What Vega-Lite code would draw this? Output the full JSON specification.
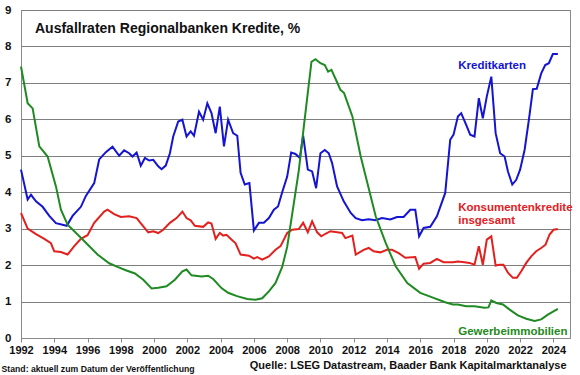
{
  "$schema": "https://vega.github.io/schema/vega-lite/v6.json",
  "width": 549,
  "height": 328,
  "autosize": {"type": "none"},
  "padding": {"left": 21, "top": 10, "right": 10, "bottom": 37},
  "background": "white",
  "config": {
    "font": "Liberation Sans",
    "view": {"stroke": "#8a8a8a", "strokeWidth": 1},
    "axis": {"labelFont": "Liberation Sans", "labelFontWeight": "bold", "labelColor": "#111", "titleFont": "Liberation Sans"}
  },
  "title": {
    "text": "Ausfallraten Regionalbanken Kredite, %",
    "anchor": "start",
    "frame": "group",
    "orient": "top",
    "font": "Liberation Sans",
    "fontSize": 14,
    "fontWeight": "bold",
    "color": "#111",
    "baseline": "alphabetic",
    "offset": 0,
    "dx": 14,
    "dy": 43
  },
  "datasets": {
    "series": [
      {"d":1992.0,"s":"Kreditkarten","v":4.62},{"d":1992.4,"s":"Kreditkarten","v":3.8},{"d":1992.6,"s":"Kreditkarten","v":3.93},{"d":1992.9,"s":"Kreditkarten","v":3.75},{"d":1993.3,"s":"Kreditkarten","v":3.6},{"d":1993.7,"s":"Kreditkarten","v":3.35},{"d":1994.1,"s":"Kreditkarten","v":3.15},{"d":1994.75,"s":"Kreditkarten","v":3.08},{"d":1995.1,"s":"Kreditkarten","v":3.35},{"d":1995.6,"s":"Kreditkarten","v":3.6},{"d":1995.9,"s":"Kreditkarten","v":3.9},{"d":1996.4,"s":"Kreditkarten","v":4.25},{"d":1996.7,"s":"Kreditkarten","v":4.9},{"d":1997.1,"s":"Kreditkarten","v":5.1},{"d":1997.5,"s":"Kreditkarten","v":5.25},{"d":1997.9,"s":"Kreditkarten","v":5.0},{"d":1998.2,"s":"Kreditkarten","v":5.15},{"d":1998.5,"s":"Kreditkarten","v":5.07},{"d":1998.7,"s":"Kreditkarten","v":4.98},{"d":1998.95,"s":"Kreditkarten","v":5.09},{"d":1999.2,"s":"Kreditkarten","v":4.73},{"d":1999.45,"s":"Kreditkarten","v":4.94},{"d":1999.7,"s":"Kreditkarten","v":4.87},{"d":1999.95,"s":"Kreditkarten","v":4.89},{"d":2000.25,"s":"Kreditkarten","v":4.71},{"d":2000.45,"s":"Kreditkarten","v":4.63},{"d":2000.7,"s":"Kreditkarten","v":4.73},{"d":2000.95,"s":"Kreditkarten","v":5.07},{"d":2001.15,"s":"Kreditkarten","v":5.53},{"d":2001.45,"s":"Kreditkarten","v":5.94},{"d":2001.7,"s":"Kreditkarten","v":5.99},{"d":2001.95,"s":"Kreditkarten","v":5.53},{"d":2002.2,"s":"Kreditkarten","v":5.67},{"d":2002.4,"s":"Kreditkarten","v":5.55},{"d":2002.7,"s":"Kreditkarten","v":6.21},{"d":2002.95,"s":"Kreditkarten","v":5.99},{"d":2003.2,"s":"Kreditkarten","v":6.44},{"d":2003.45,"s":"Kreditkarten","v":6.17},{"d":2003.7,"s":"Kreditkarten","v":5.62},{"d":2003.95,"s":"Kreditkarten","v":6.35},{"d":2004.2,"s":"Kreditkarten","v":5.26},{"d":2004.45,"s":"Kreditkarten","v":5.99},{"d":2004.75,"s":"Kreditkarten","v":5.62},{"d":2005.0,"s":"Kreditkarten","v":5.55},{"d":2005.2,"s":"Kreditkarten","v":4.53},{"d":2005.45,"s":"Kreditkarten","v":4.21},{"d":2005.73,"s":"Kreditkarten","v":4.25},{"d":2006.0,"s":"Kreditkarten","v":2.95},{"d":2006.3,"s":"Kreditkarten","v":3.16},{"d":2006.6,"s":"Kreditkarten","v":3.16},{"d":2006.9,"s":"Kreditkarten","v":3.29},{"d":2007.2,"s":"Kreditkarten","v":3.52},{"d":2007.45,"s":"Kreditkarten","v":3.61},{"d":2007.7,"s":"Kreditkarten","v":4.0},{"d":2008.0,"s":"Kreditkarten","v":4.43},{"d":2008.24,"s":"Kreditkarten","v":5.09},{"d":2008.5,"s":"Kreditkarten","v":5.05},{"d":2008.76,"s":"Kreditkarten","v":4.94},{"d":2008.96,"s":"Kreditkarten","v":5.55},{"d":2009.24,"s":"Kreditkarten","v":4.62},{"d":2009.5,"s":"Kreditkarten","v":4.57},{"d":2009.74,"s":"Kreditkarten","v":4.11},{"d":2010.0,"s":"Kreditkarten","v":5.07},{"d":2010.26,"s":"Kreditkarten","v":5.16},{"d":2010.5,"s":"Kreditkarten","v":5.07},{"d":2010.7,"s":"Kreditkarten","v":4.8},{"d":2011.0,"s":"Kreditkarten","v":4.16},{"d":2011.4,"s":"Kreditkarten","v":3.75},{"d":2011.82,"s":"Kreditkarten","v":3.43},{"d":2012.12,"s":"Kreditkarten","v":3.29},{"d":2012.5,"s":"Kreditkarten","v":3.23},{"d":2012.9,"s":"Kreditkarten","v":3.26},{"d":2013.3,"s":"Kreditkarten","v":3.23},{"d":2013.7,"s":"Kreditkarten","v":3.29},{"d":2014.2,"s":"Kreditkarten","v":3.25},{"d":2014.6,"s":"Kreditkarten","v":3.32},{"d":2015.0,"s":"Kreditkarten","v":3.32},{"d":2015.4,"s":"Kreditkarten","v":3.52},{"d":2015.7,"s":"Kreditkarten","v":3.52},{"d":2015.93,"s":"Kreditkarten","v":2.79},{"d":2016.2,"s":"Kreditkarten","v":3.02},{"d":2016.6,"s":"Kreditkarten","v":3.05},{"d":2017.0,"s":"Kreditkarten","v":3.34},{"d":2017.5,"s":"Kreditkarten","v":3.98},{"d":2017.8,"s":"Kreditkarten","v":5.44},{"d":2018.0,"s":"Kreditkarten","v":5.58},{"d":2018.26,"s":"Kreditkarten","v":6.08},{"d":2018.46,"s":"Kreditkarten","v":6.17},{"d":2018.76,"s":"Kreditkarten","v":5.85},{"d":2019.0,"s":"Kreditkarten","v":5.58},{"d":2019.26,"s":"Kreditkarten","v":5.53},{"d":2019.52,"s":"Kreditkarten","v":6.58},{"d":2019.76,"s":"Kreditkarten","v":6.03},{"d":2020.0,"s":"Kreditkarten","v":6.63},{"d":2020.27,"s":"Kreditkarten","v":7.17},{"d":2020.53,"s":"Kreditkarten","v":5.62},{"d":2020.8,"s":"Kreditkarten","v":5.07},{"d":2021.07,"s":"Kreditkarten","v":4.98},{"d":2021.27,"s":"Kreditkarten","v":4.57},{"d":2021.53,"s":"Kreditkarten","v":4.21},{"d":2021.77,"s":"Kreditkarten","v":4.34},{"d":2022.0,"s":"Kreditkarten","v":4.62},{"d":2022.27,"s":"Kreditkarten","v":5.16},{"d":2022.53,"s":"Kreditkarten","v":5.99},{"d":2022.77,"s":"Kreditkarten","v":6.83},{"d":2023.0,"s":"Kreditkarten","v":6.84},{"d":2023.27,"s":"Kreditkarten","v":7.26},{"d":2023.51,"s":"Kreditkarten","v":7.49},{"d":2023.73,"s":"Kreditkarten","v":7.54},{"d":2023.97,"s":"Kreditkarten","v":7.79},{"d":2024.27,"s":"Kreditkarten","v":7.79},
      {"d":1992.0,"s":"Konsumentenkredite","v":3.43},{"d":1992.4,"s":"Konsumentenkredite","v":3.0},{"d":1992.9,"s":"Konsumentenkredite","v":2.85},{"d":1993.4,"s":"Konsumentenkredite","v":2.72},{"d":1993.8,"s":"Konsumentenkredite","v":2.6},{"d":1994.0,"s":"Konsumentenkredite","v":2.38},{"d":1994.4,"s":"Konsumentenkredite","v":2.36},{"d":1994.8,"s":"Konsumentenkredite","v":2.29},{"d":1995.2,"s":"Konsumentenkredite","v":2.52},{"d":1995.6,"s":"Konsumentenkredite","v":2.72},{"d":1996.0,"s":"Konsumentenkredite","v":2.82},{"d":1996.4,"s":"Konsumentenkredite","v":3.16},{"d":1997.0,"s":"Konsumentenkredite","v":3.47},{"d":1997.2,"s":"Konsumentenkredite","v":3.52},{"d":1997.6,"s":"Konsumentenkredite","v":3.4},{"d":1998.0,"s":"Konsumentenkredite","v":3.32},{"d":1998.5,"s":"Konsumentenkredite","v":3.34},{"d":1998.95,"s":"Konsumentenkredite","v":3.29},{"d":1999.35,"s":"Konsumentenkredite","v":3.06},{"d":1999.65,"s":"Konsumentenkredite","v":2.9},{"d":1999.95,"s":"Konsumentenkredite","v":2.93},{"d":2000.25,"s":"Konsumentenkredite","v":2.88},{"d":2000.55,"s":"Konsumentenkredite","v":2.97},{"d":2000.95,"s":"Konsumentenkredite","v":3.16},{"d":2001.35,"s":"Konsumentenkredite","v":3.29},{"d":2001.7,"s":"Konsumentenkredite","v":3.47},{"d":2001.95,"s":"Konsumentenkredite","v":3.29},{"d":2002.2,"s":"Konsumentenkredite","v":3.23},{"d":2002.45,"s":"Konsumentenkredite","v":3.08},{"d":2002.95,"s":"Konsumentenkredite","v":3.05},{"d":2003.25,"s":"Konsumentenkredite","v":3.17},{"d":2003.45,"s":"Konsumentenkredite","v":3.14},{"d":2003.7,"s":"Konsumentenkredite","v":2.72},{"d":2003.95,"s":"Konsumentenkredite","v":2.88},{"d":2004.15,"s":"Konsumentenkredite","v":2.81},{"d":2004.35,"s":"Konsumentenkredite","v":2.83},{"d":2004.65,"s":"Konsumentenkredite","v":2.7},{"d":2004.9,"s":"Konsumentenkredite","v":2.6},{"d":2005.2,"s":"Konsumentenkredite","v":2.29},{"d":2005.7,"s":"Konsumentenkredite","v":2.26},{"d":2006.0,"s":"Konsumentenkredite","v":2.18},{"d":2006.2,"s":"Konsumentenkredite","v":2.22},{"d":2006.5,"s":"Konsumentenkredite","v":2.15},{"d":2006.9,"s":"Konsumentenkredite","v":2.24},{"d":2007.3,"s":"Konsumentenkredite","v":2.42},{"d":2007.6,"s":"Konsumentenkredite","v":2.52},{"d":2008.0,"s":"Konsumentenkredite","v":2.88},{"d":2008.3,"s":"Konsumentenkredite","v":2.97},{"d":2008.7,"s":"Konsumentenkredite","v":2.99},{"d":2008.96,"s":"Konsumentenkredite","v":3.16},{"d":2009.24,"s":"Konsumentenkredite","v":2.9},{"d":2009.5,"s":"Konsumentenkredite","v":3.2},{"d":2009.8,"s":"Konsumentenkredite","v":2.9},{"d":2010.05,"s":"Konsumentenkredite","v":2.79},{"d":2010.3,"s":"Konsumentenkredite","v":2.86},{"d":2010.6,"s":"Konsumentenkredite","v":2.93},{"d":2011.0,"s":"Konsumentenkredite","v":2.9},{"d":2011.3,"s":"Konsumentenkredite","v":2.88},{"d":2011.5,"s":"Konsumentenkredite","v":2.74},{"d":2011.92,"s":"Konsumentenkredite","v":2.81},{"d":2012.12,"s":"Konsumentenkredite","v":2.29},{"d":2012.6,"s":"Konsumentenkredite","v":2.42},{"d":2012.9,"s":"Konsumentenkredite","v":2.47},{"d":2013.2,"s":"Konsumentenkredite","v":2.38},{"d":2013.6,"s":"Konsumentenkredite","v":2.35},{"d":2014.0,"s":"Konsumentenkredite","v":2.42},{"d":2014.3,"s":"Konsumentenkredite","v":2.42},{"d":2014.7,"s":"Konsumentenkredite","v":2.33},{"d":2015.1,"s":"Konsumentenkredite","v":2.2},{"d":2015.7,"s":"Konsumentenkredite","v":2.22},{"d":2015.93,"s":"Konsumentenkredite","v":1.9},{"d":2016.2,"s":"Konsumentenkredite","v":2.04},{"d":2016.6,"s":"Konsumentenkredite","v":2.06},{"d":2017.0,"s":"Konsumentenkredite","v":2.17},{"d":2017.4,"s":"Konsumentenkredite","v":2.08},{"d":2017.96,"s":"Konsumentenkredite","v":2.08},{"d":2018.26,"s":"Konsumentenkredite","v":2.1},{"d":2018.66,"s":"Konsumentenkredite","v":2.08},{"d":2018.96,"s":"Konsumentenkredite","v":2.06},{"d":2019.26,"s":"Konsumentenkredite","v":2.01},{"d":2019.52,"s":"Konsumentenkredite","v":2.52},{"d":2019.76,"s":"Konsumentenkredite","v":2.01},{"d":2020.0,"s":"Konsumentenkredite","v":2.7},{"d":2020.27,"s":"Konsumentenkredite","v":2.79},{"d":2020.53,"s":"Konsumentenkredite","v":1.99},{"d":2020.77,"s":"Konsumentenkredite","v":2.01},{"d":2021.0,"s":"Konsumentenkredite","v":2.01},{"d":2021.27,"s":"Konsumentenkredite","v":1.79},{"d":2021.57,"s":"Konsumentenkredite","v":1.65},{"d":2021.81,"s":"Konsumentenkredite","v":1.65},{"d":2022.07,"s":"Konsumentenkredite","v":1.83},{"d":2022.37,"s":"Konsumentenkredite","v":2.06},{"d":2022.67,"s":"Konsumentenkredite","v":2.24},{"d":2022.97,"s":"Konsumentenkredite","v":2.38},{"d":2023.27,"s":"Konsumentenkredite","v":2.47},{"d":2023.53,"s":"Konsumentenkredite","v":2.56},{"d":2023.77,"s":"Konsumentenkredite","v":2.84},{"d":2024.01,"s":"Konsumentenkredite","v":2.97},{"d":2024.27,"s":"Konsumentenkredite","v":2.99},
      {"d":1992.0,"s":"Gewerbeimmobilien","v":7.45},{"d":1992.4,"s":"Gewerbeimmobilien","v":6.44},{"d":1992.7,"s":"Gewerbeimmobilien","v":6.3},{"d":1993.1,"s":"Gewerbeimmobilien","v":5.26},{"d":1993.6,"s":"Gewerbeimmobilien","v":4.98},{"d":1994.1,"s":"Gewerbeimmobilien","v":4.16},{"d":1994.4,"s":"Gewerbeimmobilien","v":3.52},{"d":1994.8,"s":"Gewerbeimmobilien","v":3.11},{"d":1995.6,"s":"Gewerbeimmobilien","v":2.75},{"d":1996.6,"s":"Gewerbeimmobilien","v":2.29},{"d":1997.3,"s":"Gewerbeimmobilien","v":2.05},{"d":1997.8,"s":"Gewerbeimmobilien","v":1.95},{"d":1998.3,"s":"Gewerbeimmobilien","v":1.86},{"d":1998.85,"s":"Gewerbeimmobilien","v":1.77},{"d":1999.35,"s":"Gewerbeimmobilien","v":1.6},{"d":1999.85,"s":"Gewerbeimmobilien","v":1.36},{"d":2000.25,"s":"Gewerbeimmobilien","v":1.38},{"d":2000.75,"s":"Gewerbeimmobilien","v":1.42},{"d":2001.25,"s":"Gewerbeimmobilien","v":1.6},{"d":2001.7,"s":"Gewerbeimmobilien","v":1.83},{"d":2001.95,"s":"Gewerbeimmobilien","v":1.88},{"d":2002.25,"s":"Gewerbeimmobilien","v":1.72},{"d":2002.85,"s":"Gewerbeimmobilien","v":1.69},{"d":2003.25,"s":"Gewerbeimmobilien","v":1.71},{"d":2003.55,"s":"Gewerbeimmobilien","v":1.62},{"d":2004.05,"s":"Gewerbeimmobilien","v":1.37},{"d":2004.45,"s":"Gewerbeimmobilien","v":1.24},{"d":2004.98,"s":"Gewerbeimmobilien","v":1.15},{"d":2005.6,"s":"Gewerbeimmobilien","v":1.07},{"d":2006.1,"s":"Gewerbeimmobilien","v":1.05},{"d":2006.5,"s":"Gewerbeimmobilien","v":1.09},{"d":2006.9,"s":"Gewerbeimmobilien","v":1.28},{"d":2007.3,"s":"Gewerbeimmobilien","v":1.51},{"d":2007.7,"s":"Gewerbeimmobilien","v":1.95},{"d":2008.0,"s":"Gewerbeimmobilien","v":2.5},{"d":2008.3,"s":"Gewerbeimmobilien","v":3.4},{"d":2008.7,"s":"Gewerbeimmobilien","v":4.6},{"d":2009.0,"s":"Gewerbeimmobilien","v":5.8},{"d":2009.46,"s":"Gewerbeimmobilien","v":7.58},{"d":2009.7,"s":"Gewerbeimmobilien","v":7.65},{"d":2010.0,"s":"Gewerbeimmobilien","v":7.54},{"d":2010.26,"s":"Gewerbeimmobilien","v":7.49},{"d":2010.46,"s":"Gewerbeimmobilien","v":7.31},{"d":2010.66,"s":"Gewerbeimmobilien","v":7.36},{"d":2010.94,"s":"Gewerbeimmobilien","v":7.08},{"d":2011.2,"s":"Gewerbeimmobilien","v":6.81},{"d":2011.42,"s":"Gewerbeimmobilien","v":6.72},{"d":2011.92,"s":"Gewerbeimmobilien","v":6.08},{"d":2012.42,"s":"Gewerbeimmobilien","v":4.98},{"d":2012.82,"s":"Gewerbeimmobilien","v":4.25},{"d":2013.32,"s":"Gewerbeimmobilien","v":3.34},{"d":2013.92,"s":"Gewerbeimmobilien","v":2.61},{"d":2014.52,"s":"Gewerbeimmobilien","v":1.97},{"d":2015.22,"s":"Gewerbeimmobilien","v":1.51},{"d":2016.0,"s":"Gewerbeimmobilien","v":1.24},{"d":2016.8,"s":"Gewerbeimmobilien","v":1.1},{"d":2017.5,"s":"Gewerbeimmobilien","v":0.98},{"d":2017.96,"s":"Gewerbeimmobilien","v":0.92},{"d":2018.26,"s":"Gewerbeimmobilien","v":0.92},{"d":2018.76,"s":"Gewerbeimmobilien","v":0.87},{"d":2019.26,"s":"Gewerbeimmobilien","v":0.87},{"d":2019.86,"s":"Gewerbeimmobilien","v":0.83},{"d":2020.1,"s":"Gewerbeimmobilien","v":0.84},{"d":2020.27,"s":"Gewerbeimmobilien","v":1.03},{"d":2020.57,"s":"Gewerbeimmobilien","v":0.96},{"d":2020.97,"s":"Gewerbeimmobilien","v":0.92},{"d":2021.37,"s":"Gewerbeimmobilien","v":0.78},{"d":2021.87,"s":"Gewerbeimmobilien","v":0.62},{"d":2022.37,"s":"Gewerbeimmobilien","v":0.53},{"d":2022.87,"s":"Gewerbeimmobilien","v":0.47},{"d":2023.27,"s":"Gewerbeimmobilien","v":0.51},{"d":2023.67,"s":"Gewerbeimmobilien","v":0.64},{"d":2024.27,"s":"Gewerbeimmobilien","v":0.8}
    ],
    "labels": [
      {"d": 2020.32, "v": 7.46, "s": "Kreditkarten", "t": "Kreditkarten"},
      {"d": 2018.28, "v": 3.57, "s": "Konsumentenkredite", "t": "Konsumentenkredite"},
      {"d": 2018.28, "v": 3.21, "s": "Konsumentenkredite", "t": "insgesamt"},
      {"d": 2018.28, "v": 0.16, "s": "Gewerbeimmobilien", "t": "Gewerbeimmobilien"}
    ]
  },
  "encoding": {
    "x": {
      "field": "d", "type": "quantitative",
      "scale": {"domain": [1992, 2025], "nice": false, "zero": false},
      "axis": {
        "values": [1992,1994,1996,1998,2000,2002,2004,2006,2008,2010,2012,2014,2016,2018,2020,2022,2024],
        "format": "d", "grid": false, "domainColor": "#8a8a8a", "tickColor": "#8a8a8a", "tickSize": 4,
        "labelFontSize": 11, "labelPadding": 2, "labelOverlap": false, "labelFlush": false,
        "title": "Quelle: LSEG Datastream, Baader Bank Kapitalmarktanalyse",
        "titleFontSize": 11, "titleFontWeight": "bold", "titleColor": "#111",
        "titleAnchor": null, "titleAlign": "right", "titleBaseline": "alphabetic", "titleX": 545, "titleY": 30
      }
    },
    "y": {
      "field": "v", "type": "quantitative",
      "scale": {"domain": [0, 9], "nice": false},
      "axis": {
        "values": [0,1,2,3,4,5,6,7,8,9], "grid": true, "gridColor": "#7f7f7f", "gridWidth": 1,
        "ticks": false, "domain": false, "labelFontSize": 11.5, "labelPadding": 10,
        "title": "Stand: aktuell zum Datum der Veröffentlichung",
        "titleFontSize": 8.7, "titleFontWeight": "bold", "titleColor": "#111",
        "titleAngle": 0, "titleAlign": "left", "titleBaseline": "alphabetic", "titleX": -20, "titleY": 361
      }
    },
    "color": {
      "field": "s", "type": "nominal", "legend": null,
      "scale": {"domain": ["Kreditkarten", "Konsumentenkredite", "Gewerbeimmobilien"], "range": ["#1414d2", "#e3201e", "#1f8a22"]}
    }
  },
  "layer": [
    {
      "data": {"name": "series"},
      "mark": {"type": "line", "strokeWidth": 2, "interpolate": "linear"},
      "encoding": {"detail": {"field": "s"}}
    },
    {
      "data": {"name": "labels"},
      "transform": [{"filter": "datum.t === 'Kreditkarten'"}],
      "mark": {"type": "text", "fontWeight": "bold", "fontSize": 11.5, "baseline": "middle", "align": "center"},
      "encoding": {"text": {"field": "t"}}
    },
    {
      "data": {"name": "labels"},
      "transform": [{"filter": "datum.t !== 'Kreditkarten'"}],
      "mark": {"type": "text", "fontWeight": "bold", "fontSize": 11.5, "baseline": "middle", "align": "left"},
      "encoding": {"text": {"field": "t"}}
    }
  ]
}
